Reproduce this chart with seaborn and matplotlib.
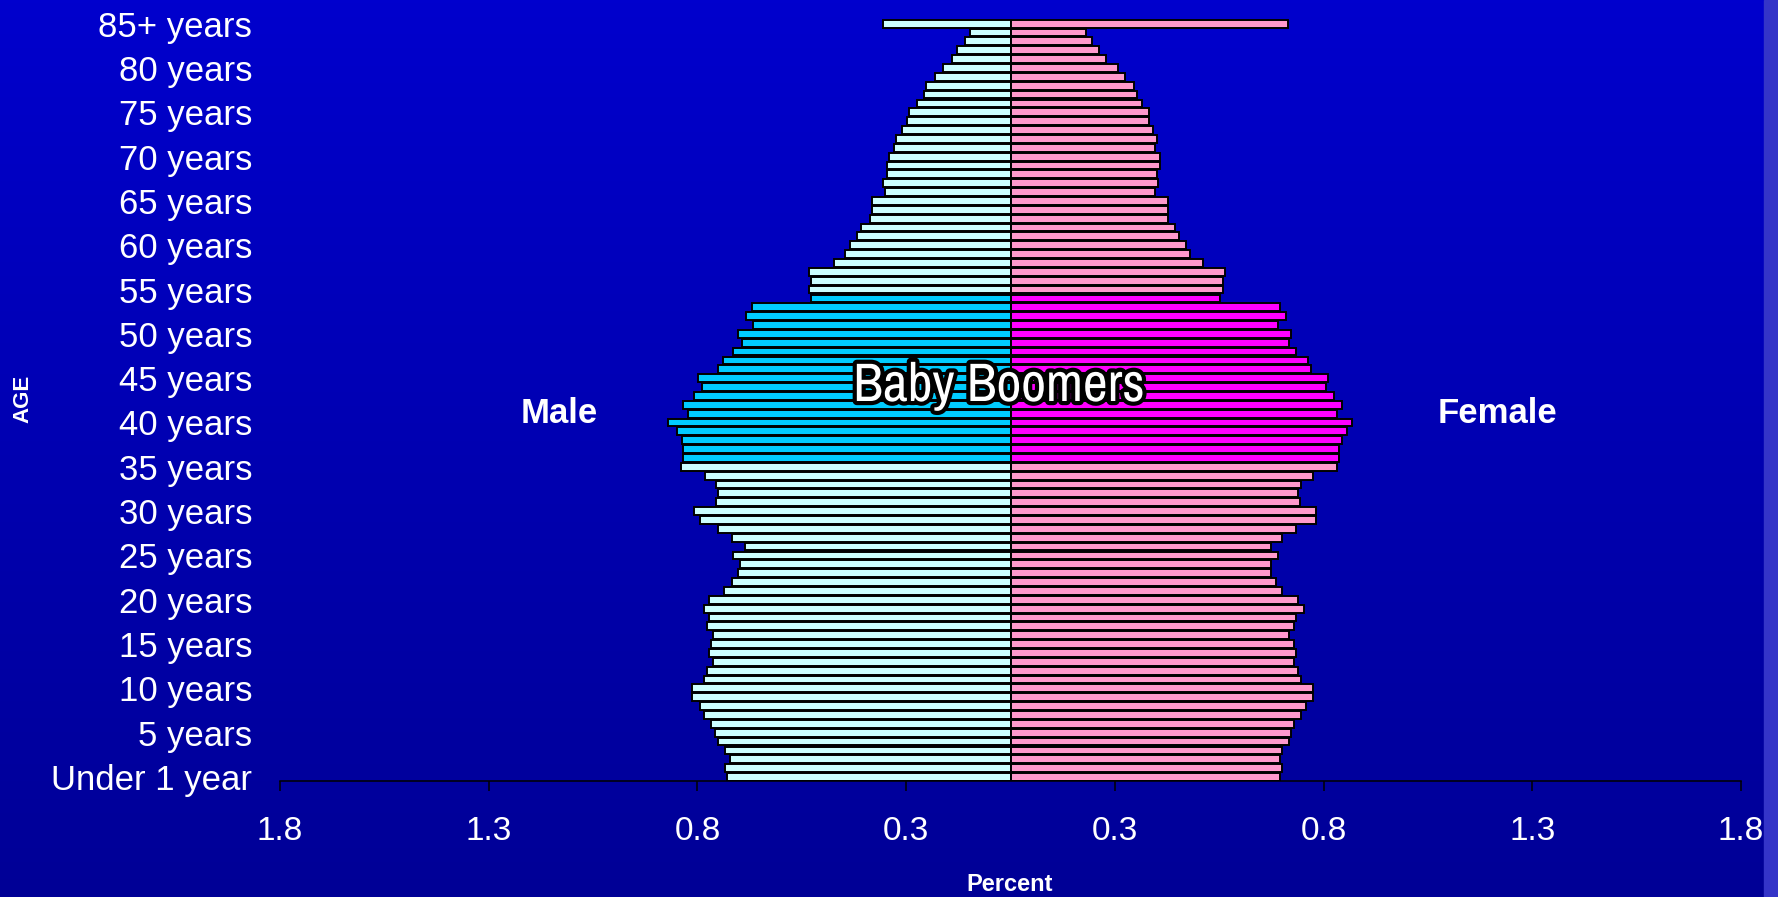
import matplotlib
matplotlib.use("Agg")
import matplotlib.pyplot as plt
import matplotlib.patheffects as pe
from matplotlib import font_manager as fm
from matplotlib.patches import Rectangle
import seaborn as sns
import pandas as pd
import numpy as np

# single years of age, 0 .. 85+ (percent of total population)
ages = list(range(86))
male = [0.678, 0.683, 0.673, 0.683, 0.700, 0.708, 0.717, 0.735, 0.745, 0.763,
        0.763, 0.735, 0.727, 0.713, 0.722, 0.717, 0.713, 0.727, 0.722, 0.735,
        0.722, 0.686, 0.668, 0.652, 0.647, 0.664, 0.637, 0.668, 0.700, 0.745,
        0.759, 0.705, 0.700, 0.705, 0.732, 0.789, 0.784, 0.784, 0.788, 0.798,
        0.820, 0.772, 0.784, 0.759, 0.740, 0.749, 0.700, 0.688, 0.664, 0.644,
        0.652, 0.617, 0.634, 0.620, 0.478, 0.482, 0.477, 0.482, 0.424, 0.397,
        0.385, 0.367, 0.358, 0.336, 0.332, 0.332, 0.300, 0.305, 0.296, 0.296,
        0.291, 0.278, 0.274, 0.260, 0.247, 0.242, 0.225, 0.207, 0.203, 0.180,
        0.162, 0.140, 0.128, 0.109, 0.096, 0.305]
female = [0.645, 0.650, 0.645, 0.650, 0.667, 0.672, 0.680, 0.697, 0.707, 0.724,
          0.724, 0.697, 0.689, 0.680, 0.684, 0.680, 0.667, 0.680, 0.684, 0.702,
          0.689, 0.650, 0.636, 0.623, 0.623, 0.641, 0.623, 0.650, 0.684, 0.733,
          0.733, 0.694, 0.689, 0.697, 0.724, 0.783, 0.788, 0.788, 0.795, 0.805,
          0.817, 0.783, 0.795, 0.774, 0.756, 0.760, 0.721, 0.712, 0.685, 0.667,
          0.672, 0.641, 0.659, 0.646, 0.503, 0.509, 0.509, 0.514, 0.461, 0.430,
          0.420, 0.404, 0.394, 0.377, 0.377, 0.377, 0.346, 0.354, 0.350, 0.359,
          0.359, 0.346, 0.350, 0.341, 0.332, 0.332, 0.315, 0.302, 0.297, 0.275,
          0.257, 0.229, 0.213, 0.195, 0.182, 0.665]
boomer_ages = list(range(36, 55))

tick_ages = [0, 5, 10, 15, 20, 25, 30, 35, 40, 45, 50, 55, 60, 65, 70, 75, 80, 85]
tick_labels = ["Under 1 year", "5 years", "10 years", "15 years", "20 years",
               "25 years", "30 years", "35 years", "40 years", "45 years",
               "50 years", "55 years", "60 years", "65 years", "70 years",
               "75 years", "80 years", "85+ years"]
pct_ticks = [-1.75, -1.25, -0.75, -0.25, 0.25, 0.75, 1.25, 1.75]
pct_labels = ["1.8", "1.3", "0.8", "0.3", "0.3", "0.8", "1.3", "1.8"]

rows = []
for a, m, f in zip(ages, male, female):
    tag = " boomer" if a in boomer_ages else ""
    rows.append({"age": a, "value": -m, "group": "Male" + tag})
    rows.append({"age": a, "value": f, "group": "Female" + tag})
df = pd.DataFrame(rows)

palette = {"Male": "#CCFFFF", "Female": "#FF99CC",
           "Male boomer": "#00CCFF", "Female boomer": "#FF00FF"}

sns.set_theme(style="white")
plt.rcParams["font.family"] = ["Liberation Sans", "DejaVu Sans"]

# a condensed face for the "Baby Boomers" callout if one is around
names = sorted({f.name for f in fm.fontManager.ttflist})
narrow = None
for n in names:
    if "Narrow" in n or "Condensed" in n:
        narrow = n
        break

W, H = 1778, 897
fig = plt.figure(figsize=(W / 100, H / 100), dpi=100)

# slide background: vertical blue gradient + light strip on the right edge
bg = fig.add_axes([0, 0, 1, 1], zorder=-10)
grad = np.linspace(0, 1, 256).reshape(-1, 1)
top_c = np.array([0, 0, 205]) / 255
bot_c = np.array([0, 0, 150]) / 255
img = top_c[None, None, :] * (1 - grad[:, :, None]) + bot_c[None, None, :] * grad[:, :, None]
bg.imshow(img, aspect="auto", extent=[0, 1, 0, 1])
bg.add_patch(Rectangle((1764 / W, 0), 14 / W, 1, color="#3434C8"))
bg.set_xlim(0, 1)
bg.set_ylim(0, 1)
bg.axis("off")

ax = fig.add_axes([280 / W, 1 - 781 / H, 1461 / W, 781 / H])
ax.set_facecolor("none")

sns.barplot(data=df, x="value", y="age", hue="group", palette=palette,
            orient="h", native_scale=True, dodge=False, width=0.88,
            saturation=1, edgecolor="black", linewidth=1.4, errorbar=None,
            legend=False, ax=ax)

ax.set_xlim(-1.75, 1.75)
ax.set_ylim(-0.45, 87.67)
ax.set_xticks(pct_ticks)
ax.set_xticklabels(pct_labels, fontsize=24, color="white")
ax.set_yticks(tick_ages)
ax.set_yticklabels(tick_labels, fontsize=25, color="white")
ax.tick_params(axis="x", bottom=True, direction="out", length=7.5, width=1.1,
               color="black", pad=18)
ax.tick_params(axis="y", left=False, length=0, pad=20)
ax.set_xlabel("")
ax.set_ylabel("")
for s in ["top", "left", "right"]:
    ax.spines[s].set_visible(False)
ax.spines["bottom"].set_color("black")
ax.spines["bottom"].set_linewidth(1.1)

fig.text(23 / W, 1 - 399 / H, "AGE", rotation=90, ha="center", va="center",
         fontsize=16, fontweight="bold", color="white")
fig.text(1010 / W, 1 - 884 / H, "Percent", ha="center", va="center",
         fontsize=17, fontweight="bold", color="white")
fig.text(559 / W, 1 - 413 / H, "Male", ha="center", va="center",
         fontsize=25, fontweight="bold", color="white")
fig.text(1498 / W, 1 - 413 / H, "Female", ha="center", va="center",
         fontsize=25, fontweight="bold", color="white")
if narrow:
    bb_kw = dict(family=[narrow, "Liberation Sans"], fontsize=39)
else:
    bb_kw = dict(fontsize=30.5)
fig.text(999 / W, 1 - 386 / H, "Baby Boomers", ha="center", va="center",
         fontweight="bold", color="white",
         path_effects=[pe.Stroke(linewidth=6, foreground="black"), pe.Normal()],
         **bb_kw)

fig.savefig("out.png", dpi=100)
